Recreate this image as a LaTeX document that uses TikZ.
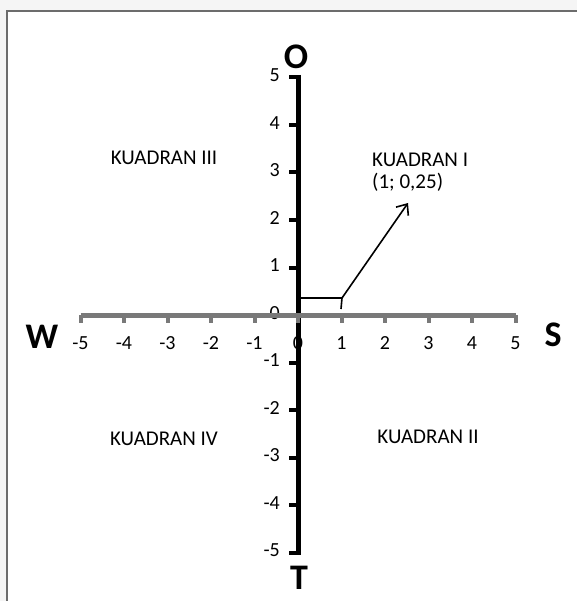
\documentclass[tikz,border=0pt]{standalone}
\usepackage{fontspec}
\setmainfont{Carlito}
\usetikzlibrary{arrows.meta}
\begin{document}
\begin{tikzpicture}[x=1pt,y=-1pt,
  ticklbl/.style={font=\fontsize{20}{23}\selectfont,inner sep=0pt},
  quadlbl/.style={font=\fontsize{21}{25}\selectfont,inner sep=0pt,align=left},
  dirlbl/.style={font=\fontsize{36}{40}\selectfont\bfseries,inner sep=0pt},
  xaxis/.style={draw=gray!95!black,line width=5pt},
  xtick/.style={draw=gray!95!black,line width=4pt},
  yaxis/.style={draw=black,line width=5pt},
  ytick/.style={draw=black,line width=4pt},
  vecline/.style={draw=black,line width=1.6pt}]
\useasboundingbox (0,0) rectangle (577,601);
\fill[gray!8] (0,0) rectangle (577,601);
\fill[white] (7,11) rectangle (577,601);
\draw[gray!85!black,line width=2pt] (7,601) -- (7,11) -- (577,11);
% coordinates of axes
\coordinate (xl) at (80.5,315);
\coordinate (xr) at (515.5,315);
\coordinate (yt) at (298,75);
\coordinate (yb) at (298,555);
% vertical axis
\draw[yaxis] (yt) -- (yb);
\foreach \j in {-5,...,5}{
  \draw[ytick] (298,{315-47.5*\j}) -- (289,{315-47.5*\j});
  \node[ticklbl,anchor=east] (yl\j) at (280,{313-47.5*\j}) {\j};
}
% x tick labels (under)
\foreach \i in {-5,...,5}{
  \node[ticklbl] (xlab\i) at ({298+43.5*\i},343) {\i};
}
\draw[yaxis] (298,330) -- (298,360);
% horizontal axis
\draw[xaxis] (xl) -- (xr);
\foreach \i in {-5,...,5}{
  \draw[xtick] ({298+43.5*\i},315) -- ({298+43.5*\i},323);
}
% direction labels
\node[dirlbl] (O) at (296,57) {O};
\node[dirlbl] (T) at (299,578) {T};
\node[dirlbl] (W) at (42,337) {W};
\node[dirlbl] (S) at (553,335) {S};
% quadrant labels
\node[quadlbl] (q3) at (164,158) {KUADRAN III};
\node[quadlbl,anchor=north west] (q1) at (372,153) {KUADRAN I\\[-3pt](1; 0,25)};
\node[quadlbl] (q4) at (164,439) {KUADRAN IV};
\node[quadlbl] (q2) at (428,437) {KUADRAN II};
% vector
\coordinate (p0) at (300,298);
\coordinate (p1) at (342,298);
\coordinate (p1b) at (341,309);
\coordinate (tip) at (408,203);
\draw[vecline] (p0) -- (p1);
\draw[vecline] (p1) -- (p1b);
\draw[vecline,-{Straight Barb[length=9pt,width=15pt]}] (p1) -- (tip);
\end{tikzpicture}
\end{document}
